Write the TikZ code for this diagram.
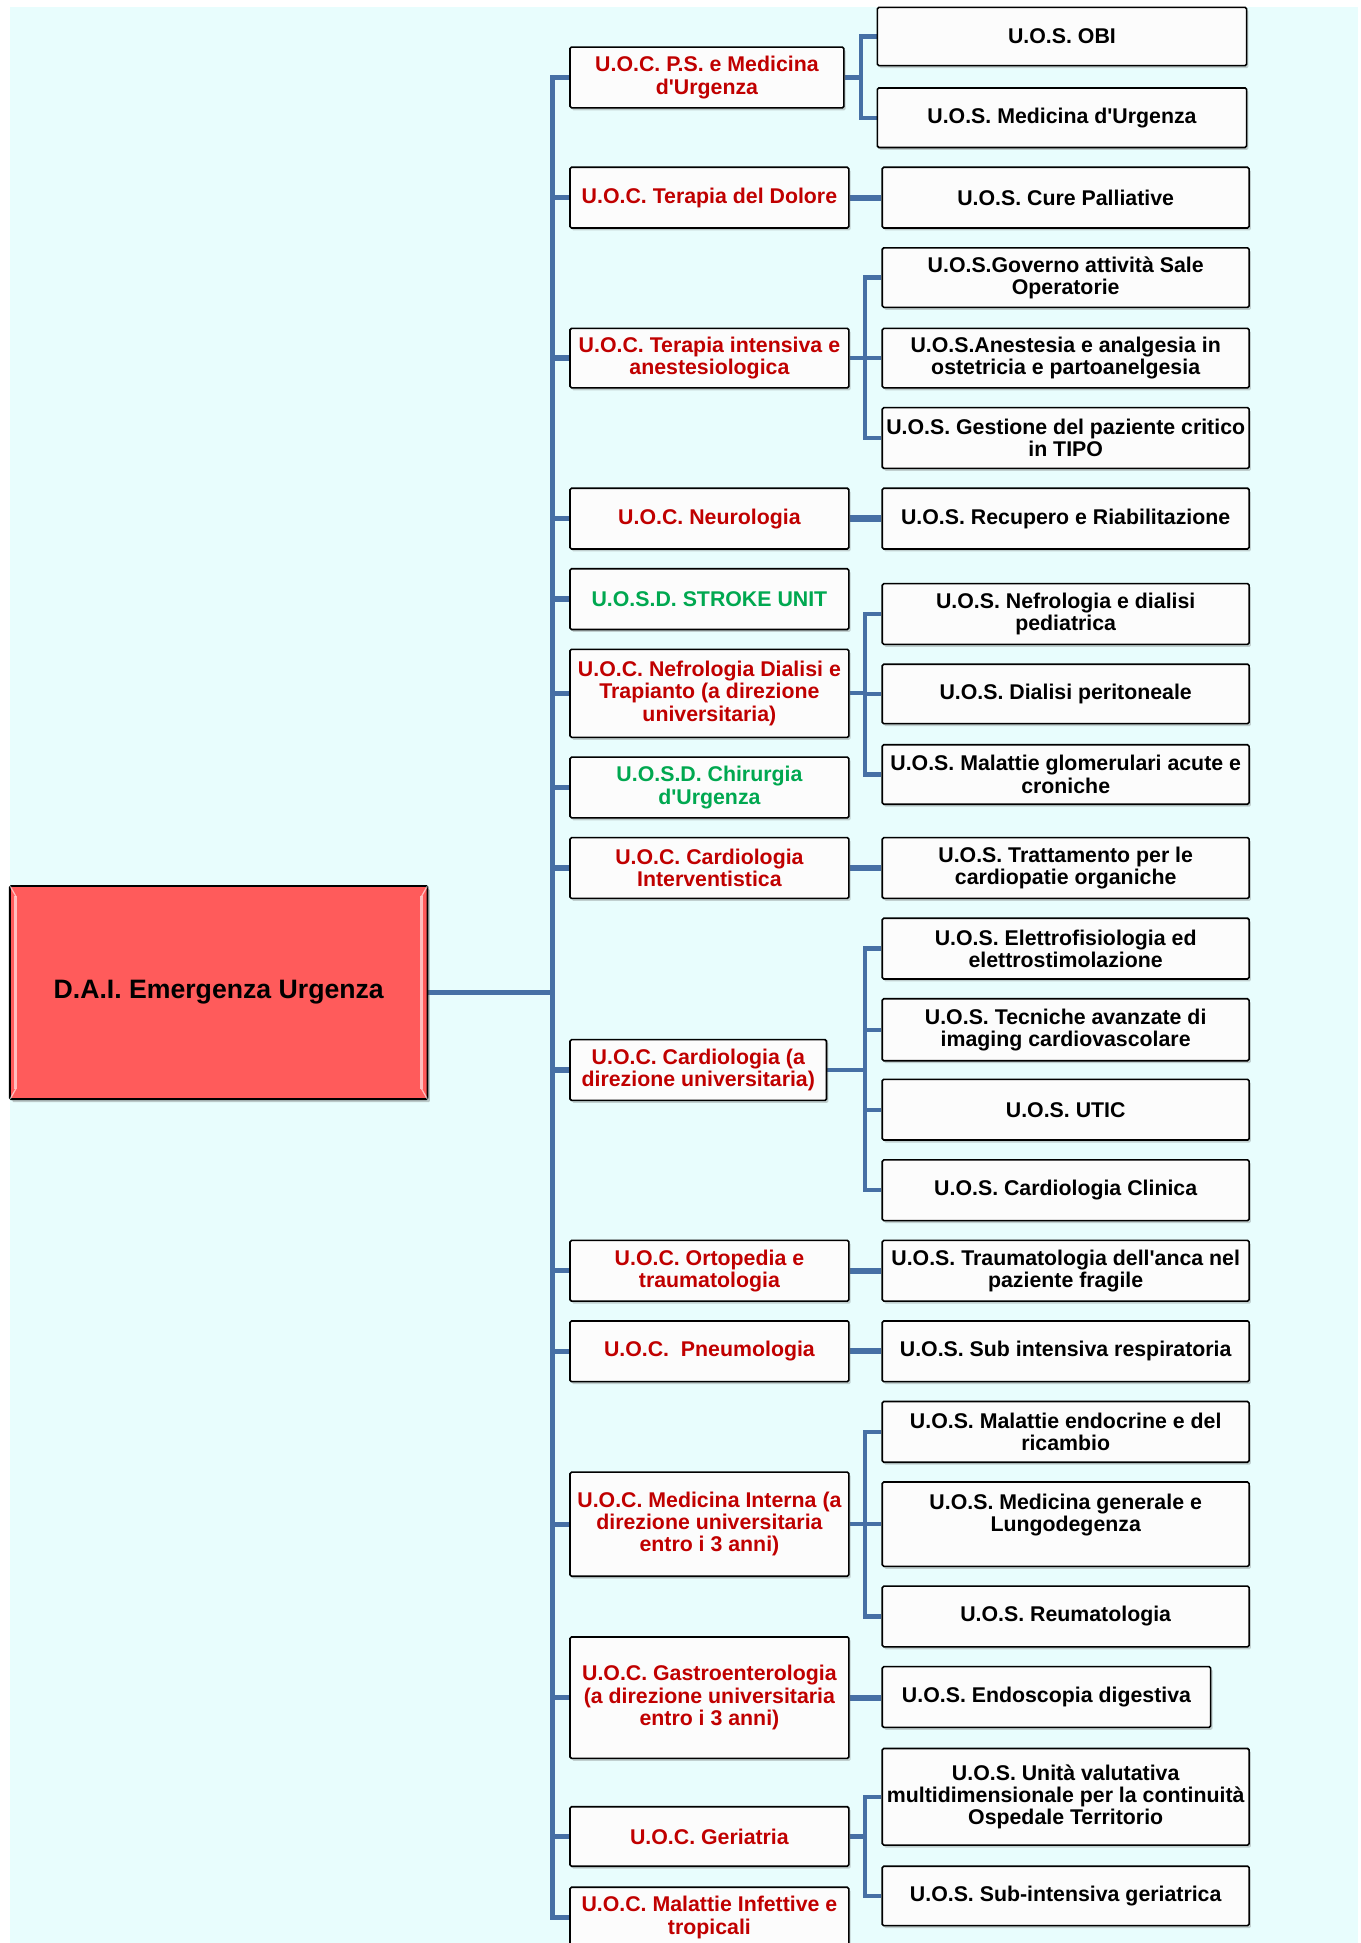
\documentclass[tikz,border=0pt]{standalone}
\usepackage{fontspec}
\setmainfont{Liberation Sans}[Ligatures=TeXOff]
\usetikzlibrary{shadows}
\definecolor{bgcyan}{RGB}{232,253,253}
\definecolor{linkblue}{RGB}{70,112,165}
\definecolor{uocred}{RGB}{192,0,0}
\definecolor{uosdgreen}{RGB}{0,168,80}
\definecolor{rootred}{RGB}{255,91,91}
\definecolor{boxfill}{RGB}{252,252,252}
\pgfdeclarelayer{bg}
\pgfdeclarelayer{links}
\pgfsetlayers{bg,links,main}
\begin{document}
\begin{tikzpicture}[x=1pt,y=-1pt,
  unit/.style={draw=black, line width=1.3pt, fill=boxfill, rounded corners=1.2pt,
    align=center, inner xsep=1pt, inner ysep=1pt,
    font=\bfseries\fontsize{17.2}{18}\selectfont,
    drop shadow={shadow xshift=1.5pt, shadow yshift=-2pt, opacity=0.3, fill=black!60}},
  uoc/.style={unit, text=uocred, minimum width=225pt, minimum height=49pt},
  uosd/.style={unit, text=uosdgreen, minimum width=225pt, minimum height=49pt},
  uos/.style={unit, text=black, minimum width=296pt, minimum height=49pt},
  trunk/.style={draw=linkblue, line width=4.3pt, line join=miter},
  bracket/.style={draw=linkblue, line width=3.5pt, line join=miter},
  direct/.style={draw=linkblue, line width=5pt}]

% canvas
\useasboundingbox (0,0) rectangle (1098,1568);
\begin{pgfonlayer}{bg}
  \fill[white] (0,0) rectangle (1098,1568);
  \fill[bgcyan] (8,6) rectangle (1095.5,1568);
\end{pgfonlayer}

% department
\node[draw=black, line width=1.5pt, fill=rootred, rounded corners=1pt,
  minimum width=337pt, minimum height=172pt,
  font=\bfseries\fontsize{21.5}{24}\selectfont,
  drop shadow={shadow xshift=2pt, shadow yshift=-2.5pt, opacity=0.35, fill=black!60}]
  (root) at (176.5,801) {D.A.I. Emergenza Urgenza};
% bevel highlights of the department box
\begin{scope}[white, opacity=0.6]
  \draw[line width=2.5pt] ([xshift=5.5pt,yshift=-9pt]root.north west) -- ([xshift=5.5pt,yshift=9pt]root.south west);
  \draw[line width=2.5pt] ([xshift=-5.5pt,yshift=-9pt]root.north east) -- ([xshift=-5.5pt,yshift=9pt]root.south east);
  \draw[line width=1pt] ([xshift=1pt,yshift=-1pt]root.north west) -- ([xshift=5.5pt,yshift=-9pt]root.north west);
  \draw[line width=1pt] ([xshift=1pt,yshift=1pt]root.south west) -- ([xshift=5.5pt,yshift=9pt]root.south west);
  \draw[line width=1pt] ([xshift=-1pt,yshift=-1pt]root.north east) -- ([xshift=-5.5pt,yshift=-9pt]root.north east);
  \draw[line width=1pt] ([xshift=-1pt,yshift=1pt]root.south east) -- ([xshift=-5.5pt,yshift=9pt]root.south east);
\end{scope}

% complex operating units
\node[uoc, minimum width=221pt] (p1) at (570.5,62.5) {U.O.C. P.S. e Medicina\\d'Urgenza};
\node[uoc] (p2) at (572.5,159.5) {U.O.C. Terapia del Dolore};
\node[uoc, minimum height=48pt] (p3) at (572.5,289) {U.O.C. Terapia intensiva e\\anestesiologica};
\node[uoc] (p4) at (572.5,418.5) {U.O.C. Neurologia};
\node[uosd] (p5) at (572.5,483.5) {U.O.S.D. STROKE UNIT};
\node[uoc, minimum height=71pt] (p6) at (572.5,559.5) {U.O.C. Nefrologia Dialisi e\\Trapianto (a direzione\\universitaria)};
\node[uosd] (p7) at (572.5,635.5) {U.O.S.D. Chirurgia\\d'Urgenza};
\node[uoc] (p8) at (572.5,700.5) {U.O.C. Cardiologia\\Interventistica};
\node[uoc, minimum width=207pt] (p9) at (563.5,863.5) {U.O.C. Cardiologia (a\\direzione universitaria)};
\node[uoc] (p10) at (572.5,1025.5) {U.O.C. Ortopedia e\\traumatologia};
\node[uoc] (p11) at (572.5,1090.5) {U.O.C.~~Pneumologia};
\node[uoc, minimum height=84pt] (p12) at (572.5,1230) {U.O.C. Medicina Interna (a\\direzione universitaria\\entro i 3 anni)};
\node[uoc, minimum height=98pt] (p13) at (572.5,1370) {U.O.C. Gastroenterologia\\(a direzione universitaria\\entro i 3 anni)};
\node[uoc, minimum height=48pt] (p14) at (572.5,1482) {U.O.C. Geriatria};
\node[uoc] (p15) at (572.5,1547.5) {U.O.C. Malattie Infettive e\\tropicali};

% simple operating units
\node[uos, minimum width=298pt, minimum height=47pt] (c1a) at (857,29.5) {U.O.S. OBI};
\node[uos, minimum width=298pt, minimum height=48pt] (c1b) at (857,95) {U.O.S. Medicina d'Urgenza};
\node[uos] (c2) at (860,159.5) {U.O.S. Cure Palliative};
\node[uos, minimum height=48pt] (c3a) at (860,224) {U.O.S.Governo attività Sale\\Operatorie};
\node[uos, minimum height=48pt] (c3b) at (860,289) {U.O.S.Anestesia e analgesia in\\ostetricia e partoanelgesia};
\node[uos] (c3c) at (860,353.5) {U.O.S. Gestione del paziente critico\\in TIPO};
\node[uos] (c4) at (860,418.5) {U.O.S. Recupero e Riabilitazione};
\node[uos] (c6a) at (860,495.5) {U.O.S. Nefrologia e dialisi\\pediatrica};
\node[uos, minimum height=48pt] (c6b) at (860,560) {U.O.S. Dialisi peritoneale};
\node[uos, minimum height=48pt] (c6c) at (860,625) {U.O.S. Malattie glomerulari acute e\\croniche};
\node[uos] (c8) at (860,700.5) {U.O.S. Trattamento per le\\cardiopatie organiche};
\node[uos] (c9a) at (860,765.5) {U.O.S. Elettrofisiologia ed\\elettrostimolazione};
\node[uos, minimum height=50pt] (c9b) at (860,831) {U.O.S. Tecniche avanzate di\\imaging cardiovascolare};
\node[uos] (c9c) at (860,895.5) {U.O.S. UTIC};
\node[uos] (c9d) at (860,960.5) {U.O.S. Cardiologia Clinica};
\node[uos] (c10) at (860,1025.5) {U.O.S. Traumatologia dell'anca nel\\paziente fragile};
\node[uos] (c11) at (860,1090.5) {U.O.S. Sub intensiva respiratoria};
\node[uos] (c12a) at (860,1155.5) {U.O.S. Malattie endocrine e del\\ricambio};
\node[uos, minimum height=68pt] (c12b) at (860,1230) {U.O.S. Medicina generale e\\Lungodegenza\\\mbox{}};
\node[uos] (c12c) at (860,1304.5) {U.O.S. Reumatologia};
\node[uos, minimum width=265pt] (c13) at (844.5,1369.5) {U.O.S. Endoscopia digestiva};
\node[uos, minimum height=78pt] (c14a) at (860,1450) {U.O.S. Unità valutativa\\multidimensionale per la continuità\\Ospedale Territorio};
\node[uos, minimum height=48pt] (c14b) at (860,1530) {U.O.S. Sub-intensiva geriatrica};

% connectors
\coordinate (T) at (446,0);
\coordinate (B1) at (695,0);
\coordinate (B) at (698,0);
\begin{pgfonlayer}{links}
  % main trunk
  \draw[trunk] (root.east) -- (root.east -| T);
  \draw[trunk] (p1.west) -- (p1.west -| T) -- (p15.west -| T) -- (p15.west);
  \foreach \n in {p2,p3,p4,p5,p6,p7,p8,p9,p10,p11,p12,p13,p14}
    \draw[trunk] (\n.west -| T) -- (\n.west);
  % P.S. e Medicina d'Urgenza
  \draw[bracket] (c1a.west) -- (c1a.west -| B1) -- (c1b.west -| B1) -- (c1b.west);
  \draw[bracket] (p1.east) -- (p1.east -| B1);
  % single children
  \draw[direct] (p2.east) -- (c2.west);
  \draw[direct] (p4.east) -- (c4.west);
  \draw[direct] (p8.east) -- (c8.west);
  \draw[direct] (p10.east) -- (c10.west);
  \draw[direct] (p11.east) -- (c11.west);
  \draw[direct] (p13.east) -- (p13.east -| c13.west);
  % Terapia intensiva
  \draw[bracket] (c3a.west) -- (c3a.west -| B) -- (c3c.west -| B) -- (c3c.west);
  \draw[bracket] (p3.east) -- (p3.east -| B);
  \draw[bracket] (c3b.west -| B) -- (c3b.west);
  % Nefrologia
  \draw[bracket] (c6a.west) -- (c6a.west -| B) -- (c6c.west -| B) -- (c6c.west);
  \draw[bracket] (p6.east) -- (p6.east -| B);
  \draw[bracket] (c6b.west -| B) -- (c6b.west);
  % Cardiologia
  \draw[bracket] (c9a.west) -- (c9a.west -| B) -- (c9d.west -| B) -- (c9d.west);
  \draw[bracket] (p9.east) -- (p9.east -| B);
  \draw[bracket] (c9b.west -| B) -- (c9b.west);
  \draw[bracket] (c9c.west -| B) -- (c9c.west);
  % Medicina Interna
  \draw[bracket] (c12a.west) -- (c12a.west -| B) -- (c12c.west -| B) -- (c12c.west);
  \draw[bracket] (p12.east) -- (p12.east -| B);
  \draw[bracket] (c12b.west -| B) -- (c12b.west);
  % Geriatria
  \draw[bracket] (c14a.west) -- (c14a.west -| B) -- (c14b.west -| B) -- (c14b.west);
  \draw[bracket] (p14.east) -- (p14.east -| B);
\end{pgfonlayer}
\end{tikzpicture}
\end{document}
